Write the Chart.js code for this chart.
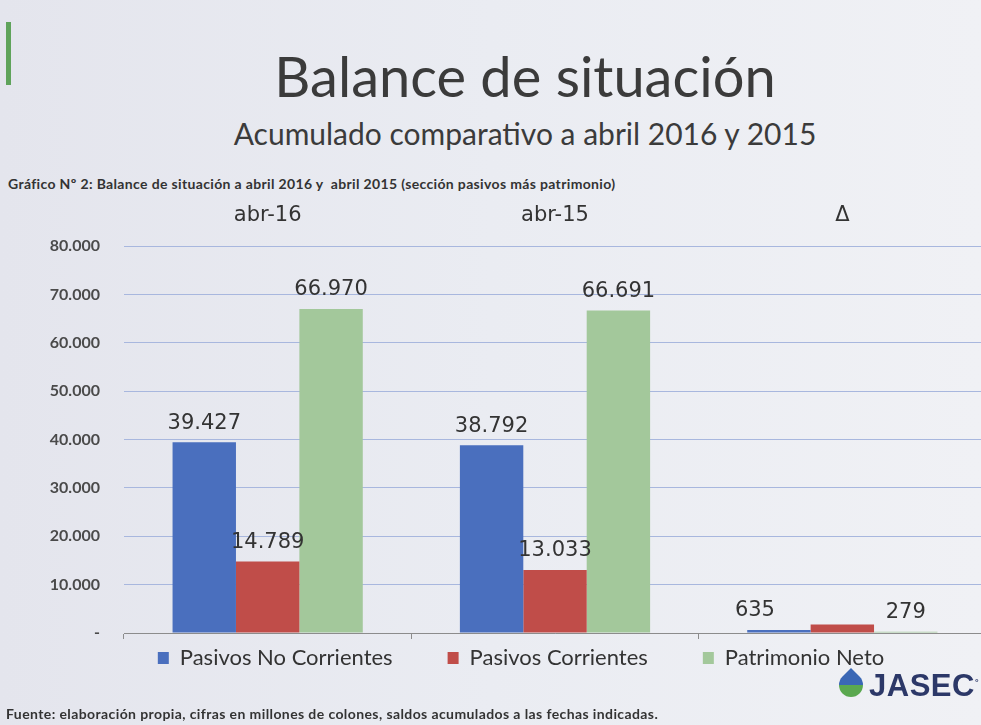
<!DOCTYPE html>
<html lang="es">
<head>
<meta charset="utf-8">
<title>Balance de situación</title>
<script src="https://cdn.jsdelivr.net/npm/chart.js@4.4.1/dist/chart.umd.min.js"></script>
<style>
  html, body { margin: 0; padding: 0; }
  body {
    width: 981px; height: 725px; overflow: hidden; position: relative;
    background: linear-gradient(90deg, #e4e5ed 0%, #eaecf2 50%, #f0f1f5 100%);
    font-family: Lato, "Open Sans", sans-serif; color: #3b3b3b;
  }
  .accent { position: absolute; left: 6px; top: 22px; width: 5px; height: 63px; background: #5fa35b; }
  .title { position: absolute; left: 0; width: 1050px; top: 42px; text-align: center; font-size: 56px; }
  .subtitle { position: absolute; left: 0; width: 1050px; top: 115px; text-align: center; font-size: 30px; }
  .caption { position: absolute; left: 8px; top: 175px; font-size: 14px; letter-spacing: 0.35px; font-weight: bold; color: #333; }
  .footer { position: absolute; left: 6px; top: 705px; font-size: 14px; letter-spacing: 0.4px; font-weight: bold; color: #333; }
  .logo { position: absolute; left: 838px; top: 668px; }
  .drop {
    position: absolute; left: 1px; top: 5px; width: 24px; height: 24px;
    background: linear-gradient(135deg, #3a67b5 0%, #3a67b5 50%, #5aa84f 51%, #5aa84f 100%);
    border-radius: 0 50% 50% 50%; transform: rotate(45deg);
  }
  .brand { position: absolute; left: 31px; top: 0; font-family: "Liberation Sans", Arial, sans-serif; font-weight: bold; font-size: 31px; color: #2c3868; letter-spacing: 0.5px; }
  canvas { position: absolute; left: 0; top: 195px; }
</style>
</head>
<body>
<div class="accent"></div>
<div class="title">Balance de situación</div>
<div class="subtitle">Acumulado comparativo a abril 2016 y 2015</div>
<div class="caption">Gráfico Nº 2: Balance de situación a abril 2016 y&nbsp; abril 2015 (sección pasivos más patrimonio)</div>
<canvas id="balanceChart" width="986" height="531"></canvas>
<div class="logo"><div class="drop"></div><div class="brand">JASEC<sup style="font-size:9px">°</sup></div></div>
<div class="footer">Fuente: elaboración propia, cifras en millones de colones, saldos acumulados a las fechas indicadas.</div>
<script>
const categories = ["abr-16", "abr-15", "Δ"];
const seriesNames = ["Pasivos No Corrientes", "Pasivos Corrientes", "Patrimonio Neto"];
const pasivosNoCorrientes = [39427, 38792, 635];
const pasivosCorrientes = [14789, 13033, 1756];
const patrimonioNeto = [66970, 66691, 279];
const yTicks = [0, 10000, 20000, 30000, 40000, 50000, 60000, 70000, 80000];
const seriesColors = ["#4a6fbe", "#c04d49", "#a3c89b"];

const fmt = v => v === 0 ? "-" : String(v).replace(/\B(?=(\d{3})+(?!\d))/g, ".");

// value labels above the bars
const barLabels = {
  id: "barLabels",
  afterDatasetsDraw(chart, args, opts) {
    const ctx = chart.ctx;
    ctx.save();
    ctx.font = "21px 'DejaVu Sans'";
    ctx.fillStyle = "#333";
    ctx.textAlign = "center";
    ctx.textBaseline = "middle";
    chart.data.datasets.forEach((ds, i) => {
      chart.getDatasetMeta(i).data.forEach((bar, j) => {
        const key = i + "-" + j;
        if (opts.hide.includes(key)) return;
        const dx = opts.nudge[key] || 0;
        ctx.fillText(fmt(ds.data[j]), bar.x + dx, bar.y - 19);
      });
    });
    ctx.restore();
  }
};

// legend sits right of centre and close under the axis in the original
const legendShift = {
  id: "legendShift",
  afterUpdate(chart, args, opts) {
    const lg = chart.legend;
    lg.left += opts.dx; lg.right += opts.dx;
    lg.top += opts.dy; lg.bottom += opts.dy;
  }
};

new Chart("balanceChart", {
  type: "bar",
  data: {
    labels: categories,
    datasets: [
      { label: seriesNames[0], data: pasivosNoCorrientes, backgroundColor: seriesColors[0] },
      { label: seriesNames[1], data: pasivosCorrientes, backgroundColor: seriesColors[1] },
      { label: seriesNames[2], data: patrimonioNeto, backgroundColor: seriesColors[2] },
    ],
  },
  options: {
    responsive: false,
    animation: false,
    datasets: { bar: { categoryPercentage: 0.662, barPercentage: 1 } },
    layout: { padding: 0 },
    scales: {
      x: {
        position: "bottom",
        grid: { display: true, drawOnChartArea: false, drawTicks: true, tickLength: 6, color: "#8c8c8c" },
        border: { color: "#8c8c8c" },
        ticks: { display: false },
        afterFit: s => { s.height = 6; },
      },
      x2: {
        type: "category",
        position: "top",
        offset: true,
        grid: { display: false, drawTicks: false },
        border: { display: false },
        ticks: { color: "#333", font: { family: "DejaVu Sans", size: 21 }, padding: 18 },
        afterFit: s => { s.height = 51; },
      },
      y: {
        min: 0,
        max: 80000,
        afterBuildTicks: s => { s.ticks = yTicks.map(v => ({ value: v })); },
        grid: { color: "#a8b7de", lineWidth: 1, drawTicks: false },
        border: { display: false },
        ticks: {
          color: "#4a4a4a",
          padding: 24,
          font: { family: "Lato", size: 16, weight: "bold" },
          callback: v => fmt(v),
        },
        afterFit: s => { s.width = 124; },
      },
    },
    plugins: {
      legend: {
        position: "bottom",
        labels: {
          boxWidth: 11,
          boxHeight: 12,
          padding: 55,
          color: "#333",
          font: { family: "Lato", size: 22 },
        },
      },
      tooltip: { enabled: false },
      barLabels: { hide: ["1-2"], nudge: { "0-2": -24 } },
      legendShift: { dx: 28, dy: -47 },
    },
  },
  plugins: [barLabels, legendShift],
});
</script>
</body>
</html>
